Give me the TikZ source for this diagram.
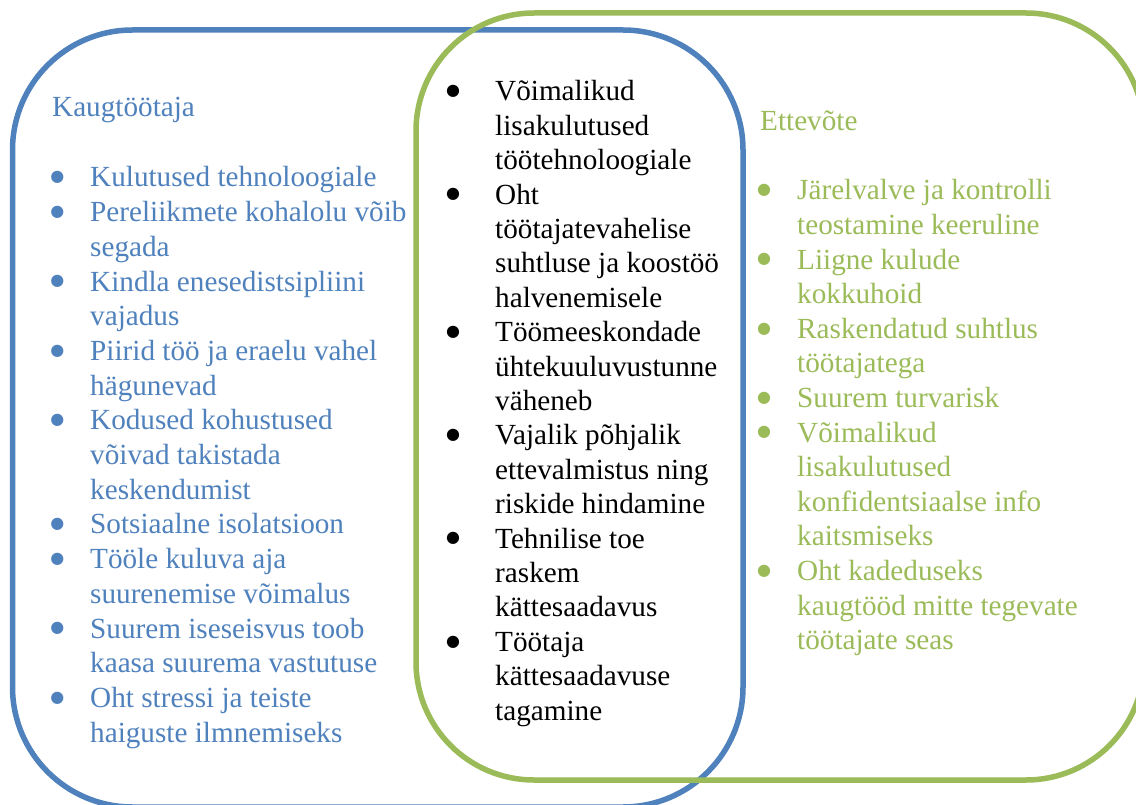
\documentclass[tikz,border=0pt]{standalone}
\usepackage{fontspec}
\setmainfont{Liberation Serif}
\newfontfamily\symfont{DejaVu Sans}
\definecolor{kblue}{RGB}{79,129,189}
\definecolor{kgreen}{RGB}{155,187,89}
\newlength{\bgap}
\newcommand{\dotmark}{\raisebox{5.3pt}{\symfont\fontsize{16pt}{16pt}\selectfont ●}}
\newcommand{\bitem}[1]{\hbox{\llap{\dotmark\hskip\bgap}#1}}
\newcommand{\bline}[1]{\hbox{#1}}
\newcommand{\colbox}[1]{\vtop{\baselineskip=34.7pt\lineskiplimit=-100pt\lineskip=0pt #1}}
\tikzset{
  listtext/.style={anchor=base west, inner sep=0pt, font=\fontsize{29.2pt}{34.7pt}\selectfont},
  bluebox/.style={draw=kblue, line width=5.5pt, rounded corners=120pt},
  greenbox/.style={draw=kgreen, line width=5.5pt, rounded corners=118pt}
}
\begin{document}
\begin{tikzpicture}[x=1pt,y=-1pt]
\useasboundingbox (0,0) rectangle (1136,805);
\clip (0,0) rectangle (1136,805);
\fill[white] (0,0) rectangle (1136,805);
% boxes
\draw[bluebox] (12.5,30) rectangle (743,807);
\draw[greenbox] (416,13) rectangle (1144,780);
% left column
\node[listtext, text=kblue] (ktitle) at (52,117) {Kaugtöötaja};
\node[listtext, text=kblue] (klist) at (90,187) {\setlength{\bgap}{25.9pt}\colbox{%
  \bitem{Kulutused tehnoloogiale}
  \bitem{Pereliikmete kohalolu võib}
  \bline{segada}
  \bitem{Kindla enesedistsipliini}
  \bline{vajadus}
  \bitem{Piirid töö ja eraelu vahel}
  \bline{hägunevad}
  \bitem{Kodused kohustused}
  \bline{võivad takistada}
  \bline{keskendumist}
  \bitem{Sotsiaalne isolatsioon}
  \bitem{Tööle kuluva aja}
  \bline{suurenemise võimalus}
  \bitem{Suurem iseseisvus toob}
  \bline{kaasa suurema vastutuse}
  \bitem{Oht stressi ja teiste}
  \bline{haiguste ilmnemiseks}}};
% middle column
\node[listtext, text=black] (mlist) at (495,101) {\setlength{\bgap}{35.2pt}\colbox{\baselineskip=34.4pt
  \bitem{Võimalikud}
  \bline{lisakulutused}
  \bline{töötehnoloogiale}
  \bitem{Oht}
  \bline{töötajatevahelise}
  \bline{suhtluse ja koostöö}
  \bline{halvenemisele}
  \bitem{Töömeeskondade}
  \bline{ühtekuuluvustunne}
  \bline{väheneb}
  \bitem{Vajalik põhjalik}
  \bline{ettevalmistus ning}
  \bline{riskide hindamine}
  \bitem{Tehnilise toe}
  \bline{raskem}
  \bline{kättesaadavus}
  \bitem{Töötaja}
  \bline{kättesaadavuse}
  \bline{tagamine}}};
% right column
\node[listtext, text=kgreen] (etitle) at (760,131) {Ettevõte};
\node[listtext, text=kgreen] (elist) at (797,200) {\setlength{\bgap}{26.2pt}\colbox{\baselineskip=34.6pt
  \bitem{Järelvalve ja kontrolli}
  \bline{teostamine keeruline}
  \bitem{Liigne kulude}
  \bline{kokkuhoid}
  \bitem{Raskendatud suhtlus}
  \bline{töötajatega}
  \bitem{Suurem turvarisk}
  \bitem{Võimalikud}
  \bline{lisakulutused}
  \bline{konfidentsiaalse info}
  \bline{kaitsmiseks}
  \bitem{Oht kadeduseks}
  \bline{kaugtööd mitte tegevate}
  \bline{töötajate seas}}};
\end{tikzpicture}
\end{document}
